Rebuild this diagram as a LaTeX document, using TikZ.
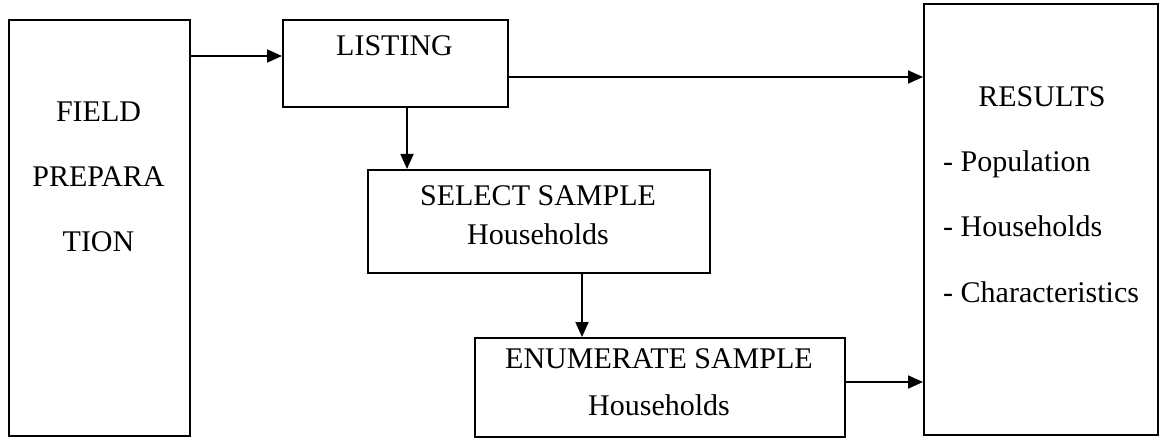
\documentclass[tikz,border=0pt]{standalone}
\usepackage{fontspec}
\setmainfont{Liberation Serif}
\usetikzlibrary{arrows.meta}
\begin{document}
\begin{tikzpicture}[x=1pt,y=-1pt,
  box/.style={draw, line width=1.8pt, inner sep=0pt, anchor=north west},
  txt/.style={inner sep=0pt, font=\fontsize{30}{36}\selectfont},
  arr/.style={line width=1.8pt, -{Triangle[length=15pt,width=13pt]}}]
\useasboundingbox (0,0) rectangle (1159,438);
% boxes
\node[box, minimum width=181pt, minimum height=416pt] (field) at (8,19) {};
\node[box, minimum width=225pt, minimum height=87pt] (listing) at (282,19) {};
\node[box, minimum width=342pt, minimum height=103pt] (select) at (367,169) {};
\node[box, minimum width=370pt, minimum height=99pt] (enum) at (474,337) {};
\node[box, minimum width=234pt, minimum height=431pt] (results) at (923,3) {};
% texts
\node[txt, anchor=base] (t1) at (98.5,122) {FIELD};
\node[txt, anchor=base] (t2) at (98.5,187) {PREPARA};
\node[txt, anchor=base] (t3) at (98.5,252) {TION};
\node[txt, anchor=base] (t4) at (394.5,56) {LISTING};
\node[txt, anchor=base] (t5) at (538,206) {SELECT SAMPLE};
\node[txt, anchor=base] (t6) at (538,245) {Households};
\node[txt, anchor=base] (t7) at (659,368) {ENUMERATE SAMPLE};
\node[txt, anchor=base] (t8) at (659,415) {Households};
\node[txt, anchor=base] (t9) at (1042,107) {RESULTS};
\node[txt, anchor=base west] (t10) at (943,172) {- Population};
\node[txt, anchor=base west] (t11) at (943,237) {- Households};
\node[txt, anchor=base west] (t12) at (943,302) {- Characteristics};
% connectors
\draw[arr] (field.east |- 0,56) -- (listing.west |- 0,56);
\draw[arr] (listing.east |- 0,77) -- (results.west |- 0,77);
\draw[arr] (listing.south -| 407,0) -- (select.north -| 407,0);
\draw[arr] (select.south -| 582,0) -- (enum.north -| 582,0);
\draw[arr] (enum.east |- 0,382) -- (results.west |- 0,382);
\end{tikzpicture}
\end{document}
